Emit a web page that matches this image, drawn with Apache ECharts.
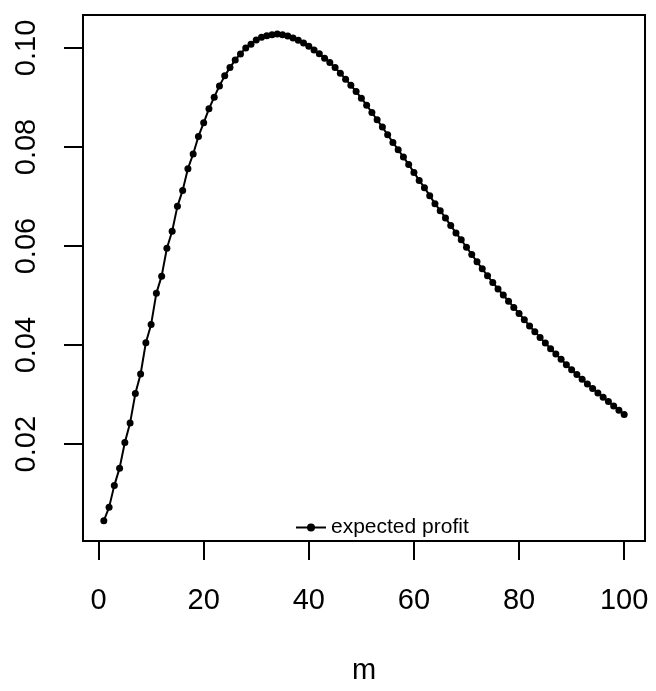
<!DOCTYPE html>
<html>
<head>
<meta charset="utf-8">
<script src="https://cdn.jsdelivr.net/npm/echarts@6/dist/echarts.min.js"></script>
<style>
  html, body { margin: 0; padding: 0; background: #fff; }
  #chart { width: 656px; height: 691px; }
</style>
</head>
<body>
<div id="chart"></div>
<script>
// m = 1..100
const mValues = [];
for (let i = 1; i <= 100; i++) mValues.push(i);

// expected profit
const profit = [
  0.00454, 0.00724, 0.01168, 0.01516, 0.02034, 0.02429, 0.03022, 0.03417, 0.04049, 0.04418,
  0.05049, 0.05392, 0.05956, 0.06298, 0.06802, 0.07124, 0.07562, 0.07858, 0.08213, 0.08489,
  0.08771, 0.09006, 0.09234, 0.09436, 0.09603, 0.09758, 0.09879, 0.10000, 0.10074, 0.10161,
  0.10216, 0.10248, 0.10268, 0.10282, 0.10268, 0.10242, 0.10202, 0.10155, 0.10101, 0.10034,
  0.09960, 0.09885, 0.09792, 0.09704, 0.09603, 0.09490, 0.09369, 0.09248, 0.09119, 0.08986,
  0.08845, 0.08696, 0.08549, 0.08402, 0.08247, 0.08092, 0.07944, 0.07797, 0.07648, 0.07487,
  0.07326, 0.07179, 0.07018, 0.06856, 0.06715, 0.06568, 0.06413, 0.06266, 0.06125, 0.05976,
  0.05829, 0.05682, 0.05541, 0.05400, 0.05264, 0.05134, 0.05011, 0.04888, 0.04761, 0.04640,
  0.04513, 0.04384, 0.04271, 0.04156, 0.04041, 0.03928, 0.03820, 0.03713, 0.03606, 0.03505,
  0.03405, 0.03310, 0.03215, 0.03123, 0.03034, 0.02947, 0.02860, 0.02772, 0.02685, 0.02598
];

const xTicks = [0, 20, 40, 60, 80, 100];
const yTicks = [0.02, 0.04, 0.06, 0.08, 0.10];

const font = 'Liberation Sans, Arial, Helvetica, sans-serif';

const chart = echarts.init(document.getElementById('chart'));

const option = {
  backgroundColor: '#ffffff',
  animation: false,
  grid: {
    left: 83,
    right: 11,
    top: 15,
    bottom: 150,
    show: true,
    borderColor: '#000',
    borderWidth: 2,
    backgroundColor: 'transparent'
  },
  legend: {
    left: 290,
    top: 512,
    itemWidth: 30,
    itemHeight: 10,
    itemGap: 8,
    textStyle: { color: '#000', fontSize: 21, fontFamily: font },
    data: ['expected profit']
  },
  xAxis: {
    type: 'value',
    position: 'bottom',
    min: -2.96,
    max: 103.96,
    name: 'm',
    nameLocation: 'middle',
    nameGap: 115,
    nameTextStyle: { color: '#000', fontSize: 29, fontFamily: font },
    axisLine: { show: false, onZero: false },
    splitLine: { show: false },
    axisTick: {
      show: true,
      inside: false,
      length: 19,
      customValues: xTicks,
      lineStyle: { color: '#000', width: 2 }
    },
    axisLabel: {
      customValues: xTicks,
      margin: 45,
      color: '#000',
      fontSize: 29,
      fontFamily: font
    }
  },
  yAxis: {
    type: 'value',
    position: 'left',
    min: 0.00045,
    max: 0.10665,
    axisLine: { show: false, onZero: false },
    splitLine: { show: false },
    axisTick: {
      show: true,
      inside: false,
      length: 19,
      customValues: yTicks,
      lineStyle: { color: '#000', width: 2 }
    },
    axisLabel: {
      customValues: yTicks,
      rotate: 90,
      margin: 42,
      color: '#000',
      fontSize: 29,
      fontFamily: font,
      formatter: v => v.toFixed(2)
    }
  },
  series: [{
    name: 'expected profit',
    type: 'line',
    data: mValues.map((m, i) => [m, profit[i]]),
    symbol: 'circle',
    symbolSize: 7,
    showAllSymbol: true,
    lineStyle: { color: '#000', width: 2 },
    itemStyle: { color: '#000' }
  }]
};

chart.setOption(option);
</script>
</body>
</html>
